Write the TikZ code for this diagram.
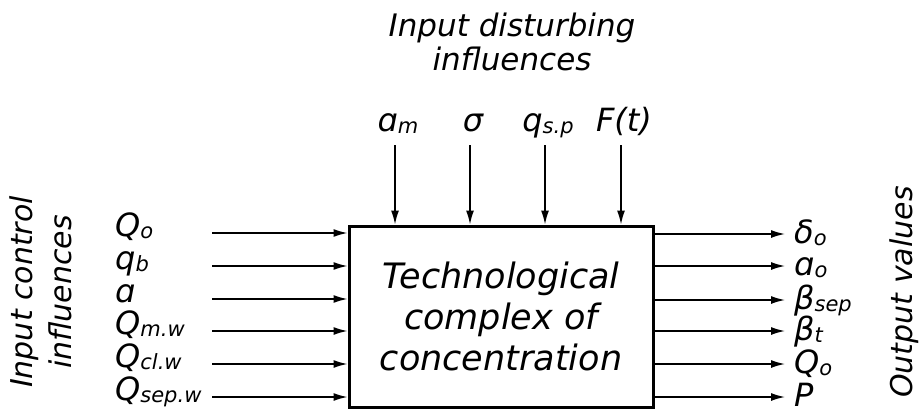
\documentclass[tikz,border=0pt]{standalone}
\usepackage{fontspec}
\setmainfont{DejaVu Sans}
\usetikzlibrary{arrows.meta}
\newcommand\mysub[1]{\raisebox{-2pt}{\fontsize{21}{21}\selectfont #1}}
\begin{document}
\begin{tikzpicture}[x=1pt,y=-1pt,
  lab/.style={font=\fontsize{32}{32}\selectfont\itshape, inner sep=0pt},
  ttl/.style={font=\fontsize{31}{34}\selectfont\itshape, inner sep=0pt, align=center},
  side/.style={font=\fontsize{30}{39}\selectfont\itshape, inner sep=0pt, align=center, rotate=90},
  arr/.style={line width=1.5pt, -{Latex[length=14pt,width=8pt]}},
  blk/.style={draw, line width=3pt, minimum width=304pt, minimum height=181pt,
    inner sep=0pt, align=center, font=\fontsize{35}{41}\selectfont\itshape}]
\useasboundingbox (0,0) rectangle (920,412);
\fill[white] (0,0) rectangle (920,412);

\node[blk] (box) at (501,316.5) {Technological\\complex of\\concentration};

% titles
\node[ttl] (tdist) at (512,42) {Input disturbing\\influences};
\node[side] (tctl) at (41,292) {Input control\\influences};
\node[side, anchor=base] (tout) at (912,292) {Output values};

% top inputs
\foreach \n/\x/\t in {1/395/{ɑ\mysub{m}}, 2/470/{σ}, 3/545/{q\mysub{s.p}}, 4/621/{F(t)}}{
  \coordinate (t\n) at (\x,145);
  \node[lab, anchor=base] (tl\n) at (\x+3,131) {\t};
  \draw[arr] (t\n) -- (t\n |- box.north);
}

% left inputs
\foreach \n/\y/\t in {1/233/{Q\mysub{o}}, 2/266/{q\mysub{b}}, 3/299/{ɑ},
  4/331/{Q\mysub{m.w}}, 5/364/{Q\mysub{cl.w}}, 6/397/{Q\mysub{sep.w}}}{
  \coordinate (l\n) at (212,\y);
  \node[lab, anchor=base west] (ll\n) at (115,\y+3) {\t};
  \draw[arr] (l\n) -- (l\n -| box.west);
}

% outputs
\foreach \n/\y/\t in {1/234/{δ\mysub{o}}, 2/266/{ɑ\mysub{o}}, 3/300/{β\mysub{sep}},
  4/331/{β\mysub{t}}, 5/364/{Q\mysub{o}}, 6/397/{P}}{
  \coordinate (r\n) at (785,\y);
  \node[lab, anchor=base west] (rl\n) at (794,\y+9) {\t};
  \draw[arr] (r\n -| box.east) -- (r\n);
}
\end{tikzpicture}
\end{document}
